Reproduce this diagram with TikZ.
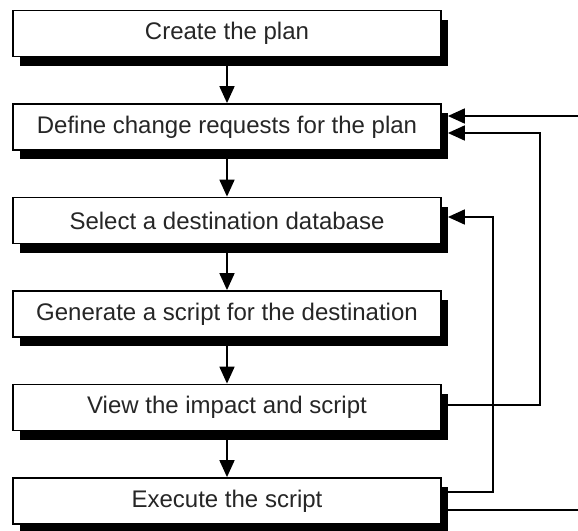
\documentclass[tikz,border=0pt]{standalone}
\usepackage{fontspec}
\setmainfont{Liberation Sans}
\usetikzlibrary{arrows.meta,positioning,calc,shadows}

\begin{document}
\begin{tikzpicture}[x=1pt,y=1pt,
stepbox/.style={draw=black, line width=1.8pt, fill=white, minimum width=428pt, minimum height=46pt, inner sep=0pt, font=\fontsize{24}{28}\selectfont, text=black!85, general shadow={fill=black, shadow xshift=7pt, shadow yshift=-9pt}},
flow/.style={line width=1.8pt, -{Triangle[width=15pt,length=17pt]}},
]
\useasboundingbox (0,0) rectangle (578,-530);
\node[stepbox] (plan) at (227,-33.5) {Create the plan};
\node[stepbox] (requests) at (227,-127) {Define change requests for the plan};
\node[stepbox] (database) at (227,-220.5) {Select a destination database};
\node[stepbox] (generate) at (227,-314) {Generate a script for the destination};
\node[stepbox] (impact) at (227,-407.5) {View the impact and script};
\node[stepbox] (execute) at (227,-501) {Execute the script};

\draw[flow] (plan) -- (requests);
\draw[flow] (requests) -- (database);
\draw[flow] (database) -- (generate);
\draw[flow] (generate) -- (impact);
\draw[flow] (impact) -- (execute);

% loops back on the right
\coordinate (loopin) at (578,-116);
\coordinate (loopout) at (578,-510);
\draw[flow] (loopin) -- ($(requests.east)+(6,11)$);
\draw[flow] ($(impact.east)+(6,2.5)$) -- ++(92,0) |- ($(requests.east)+(6,-6)$);
\draw[flow] ($(execute.east)+(6,9)$) -- ++(45,0) |- ($(database.east)+(6,3.5)$);
\draw[line width=1.8pt] ($(execute.east)+(6,-9)$) -- (loopout);

%\draw[red] (0,0) -- (578,0);
\end{tikzpicture}
\end{document}
